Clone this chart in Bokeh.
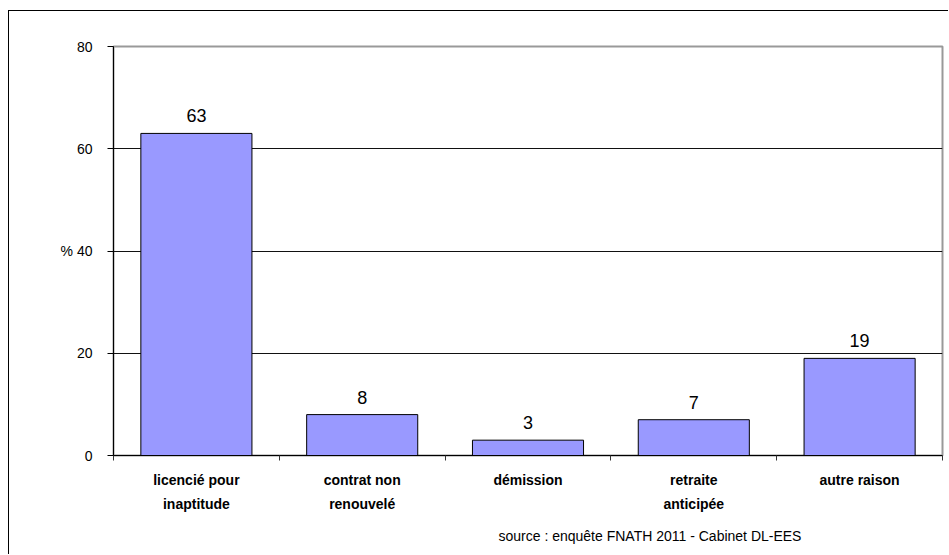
from bokeh.plotting import figure
from bokeh.models import Range1d, FixedTicker, ColumnDataSource, LabelSet, Title
from bokeh.core.properties import value
from bokeh.embed import file_html
from bokeh.resources import INLINE

categories = ["licencié pour\ninaptitude", "contrat non\nrenouvelé", "démission",
              "retraite\nanticipée", "autre raison"]
values = [63, 8, 3, 7, 19]
y_ticks = [0, 20, 40, 60, 80]
y_tick_labels = ["0", "20", "% 40", "60", "80"]
grid_ticks = [20, 40, 60]
source_note = "source : enquête FNATH 2011 - Cabinet DL-EES"

FONT = "Liberation Sans"
n = len(categories)
x_pos = [i + 0.5 for i in range(n)]
boundaries = list(range(n + 1))

src = ColumnDataSource(dict(x=x_pos, v=values, t=[str(v) for v in values]))

p = figure(width=940, height=544, output_backend="svg", toolbar_location=None,
           x_range=Range1d(0, n), y_range=Range1d(0, 80),
           min_border_left=104, min_border_top=35, min_border_right=7,
           min_border_bottom=100)
p.styles = {"margin-left": "8px", "margin-top": "10px",
            "border-top": "1px solid black", "border-left": "1px solid black"}
p.background_fill_color = "white"
p.border_fill_color = "white"
p.outline_line_color = "#999999"
p.outline_line_width = 2

p.vbar(x="x", top="v", width=0.67, source=src, fill_color="#9999FF",
       line_color="black", line_width=1)

p.add_layout(LabelSet(x="x", y="v", text="t", source=src, y_offset=11,
                      text_align="center", text_baseline="bottom",
                      text_font_size="18px", text_font=value(FONT),
                      text_color="black"))

# y axis
ya = p.yaxis[0]
ya.ticker = FixedTicker(ticks=y_ticks)
ya.major_label_overrides = dict(zip(y_ticks, y_tick_labels))
ya.minor_tick_line_color = None
ya.major_tick_in = 0
ya.major_tick_out = 6
ya.major_tick_line_color = "black"
ya.axis_line_color = "black"
ya.major_label_standoff = 15
ya.major_label_text_font = FONT
ya.major_label_text_font_size = "14px"
ya.major_label_text_color = "black"

# x axis
xa = p.xaxis[0]
xa.ticker = FixedTicker(ticks=x_pos, minor_ticks=boundaries)
xa.major_label_overrides = dict(zip(x_pos, categories))
xa.major_tick_line_color = None
xa.major_tick_in = 0
xa.major_tick_out = 0
xa.minor_tick_in = 0
xa.minor_tick_out = 5
xa.minor_tick_line_color = "#333333"
xa.axis_line_color = "black"
xa.major_label_standoff = 11
xa.major_label_text_font = FONT
xa.major_label_text_font_size = "14px"
xa.major_label_text_font_style = "bold"
xa.major_label_text_color = "black"
xa.major_label_text_line_height = 1.5

p.xgrid.visible = False
p.ygrid.ticker = FixedTicker(ticks=grid_ticks)
p.ygrid.grid_line_color = "#111111"
p.ygrid.grid_line_width = 1

p.add_layout(Title(text=source_note, align="left", offset=385, standoff=22,
                   text_font=FONT, text_font_size="14px",
                   text_font_style="normal", text_color="black"), "below")

open("out.html", "w").write(file_html(p, INLINE))
